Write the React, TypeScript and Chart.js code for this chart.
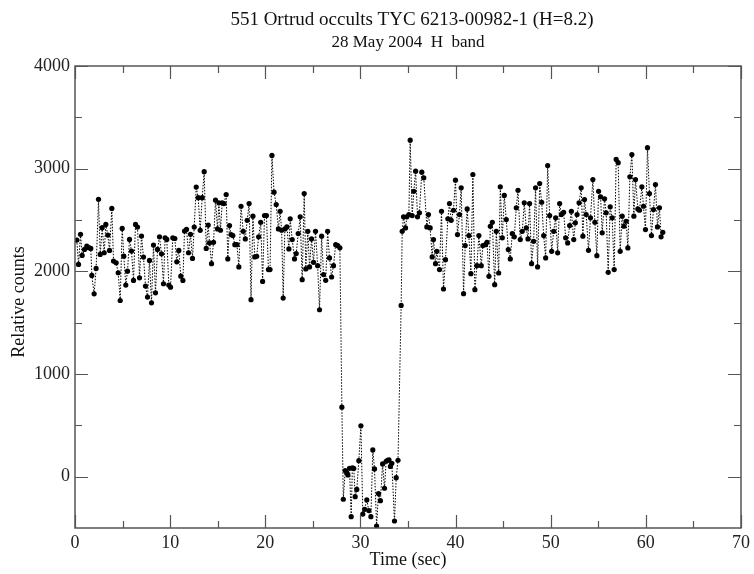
import React, { useEffect, useRef } from 'react';
import { Chart, registerables } from 'chart.js';
Chart.register(...registerables);

const TITLE = '551 Ortrud occults TYC 6213-00982-1 (H=8.2)';
const SUBTITLE = '28 May 2004  H  band';
const X_LABEL = 'Time (sec)';
const Y_LABEL = 'Relative counts';
const X_MAJOR = [0, 10, 20, 30, 40, 50, 60, 70];
const X_MINOR = [5, 15, 25, 35, 45, 55, 65];
const Y_MAJOR = [0, 1000, 2000, 3000, 4000];
const Y_MINOR = [500, 1500, 2500, 3500];

const TIMES = [
  0.19, 0.37, 0.58, 0.75, 1.0, 1.24, 1.45, 1.66, 1.77, 2.01, 2.22, 2.47, 2.65, 2.86, 3.07, 3.24, 3.45, 3.63, 3.87, 4.05,
  4.33, 4.54, 4.75, 4.96, 5.13, 5.34, 5.52, 5.73, 5.94, 6.15, 6.36, 6.57, 6.78, 6.99, 7.2, 7.41, 7.62, 7.83, 8.04, 8.25,
  8.46, 8.67, 8.88, 9.09, 9.3, 9.47, 9.65, 9.86, 10.04, 10.28, 10.49, 10.7, 10.91, 11.12, 11.34, 11.51, 11.72, 11.93, 12.14, 12.35,
  12.53, 12.74, 12.95, 13.16, 13.37, 13.58, 13.79, 14.0,
  14.14, 14.35, 14.56, 14.77, 14.98, 15.12, 15.29, 15.47, 15.65, 15.89, 16.06, 16.24, 16.41, 16.59, 16.8, 17.02, 17.22, 17.45, 17.68, 17.9,
  18.1, 18.3, 18.5, 18.7, 18.9, 19.1, 19.3, 19.52, 19.72, 19.92, 20.12, 20.33, 20.5, 20.7, 20.92, 21.15, 21.38, 21.56, 21.72, 21.88,
  22.06, 22.27, 22.48, 22.62, 22.83, 23.07, 23.25, 23.46, 23.67, 23.88, 24.09, 24.26, 24.47, 24.65, 24.86, 25.07, 25.28, 25.5, 25.7, 25.92,
  26.12, 26.35, 26.55, 26.75, 26.97, 27.17, 27.4, 27.62, 27.84,
  28.05, 28.2, 28.4, 28.55, 28.68, 28.85, 29.03, 29.15, 29.3, 29.45, 29.62, 29.83, 30.05, 30.25, 30.45, 30.67, 30.88, 31.1, 31.3, 31.48,
  31.7, 31.9, 32.1, 32.33, 32.53, 32.7, 32.85, 33.0, 33.15, 33.3, 33.58, 33.76, 33.95,
  34.28, 34.39, 34.53, 34.74, 34.88, 35.09, 35.23, 35.44, 35.61, 35.8, 36.0, 36.2, 36.45, 36.66, 36.98, 37.15,
  37.33, 37.54, 37.68, 37.89, 38.03, 38.31, 38.52, 38.73, 38.94, 39.19, 39.36, 39.54, 39.78, 39.99, 40.2, 40.41, 40.59, 40.84, 41.01, 41.22,
  41.4, 41.61, 41.82, 42.03, 42.24, 42.45, 42.7, 42.87, 43.15, 43.3, 43.51, 43.65, 43.86, 44.11, 44.28, 44.53, 44.7, 44.91, 45.12, 45.33,
  45.54, 45.75, 45.96, 46.17, 46.38, 46.56, 46.8, 47.01, 47.22, 47.43, 47.61, 47.78, 47.99, 48.2, 48.41, 48.62, 48.84, 49.05, 49.26, 49.47,
  49.68, 49.89, 50.1, 50.31, 50.52, 50.73, 50.94, 51.12, 51.36, 51.57, 51.78, 51.99, 52.17, 52.42, 52.59, 52.77, 52.98,
  53.2, 53.38, 53.55, 53.73, 53.97, 54.18, 54.43, 54.64, 54.85, 55.03, 55.24, 55.41, 55.66, 55.83, 56.04, 56.25, 56.46, 56.67, 56.88, 57.09,
  57.3, 57.51, 57.69, 57.93, 58.11, 58.32, 58.53, 58.74, 58.91, 59.16, 59.33, 59.58, 59.75, 59.96, 60.17, 60.38, 60.59, 60.8, 61.01, 61.22,
  61.43, 61.6, 61.78,
];

const COUNTS = [
  2304, 2067, 2360, 2155, 2213, 2246, 2230, 2223, 1960, 1781, 2028, 2701, 2165, 2425, 2181, 2457, 2353, 2204, 2613, 2100,
  2083, 1986, 1716, 2418, 2148, 1866, 2002, 2311, 2197, 1911, 2457, 2431, 1937, 2343, 2139, 1856, 1749, 2106, 1693, 2256,
  1791, 2213, 2337, 2171, 1879, 2327, 2311, 1866, 1846, 2327, 2320, 2093, 2204, 1953, 1911, 2392, 2408, 2181, 2360, 2126,
  2431, 2821, 2717, 2399, 2717, 2971, 2223, 2451,
  2277, 2075, 2283, 2693, 2413, 2667, 2400, 2667, 2660, 2748, 2121, 2446, 2358, 2348, 2260, 2260, 2043, 2634, 2390, 2316,
  2497, 2660, 1724, 2537, 2140, 2147, 2336, 2478, 1902, 2543, 2543, 2017, 2017, 3129, 2771, 2651, 2413, 2585, 2400, 1740,
  2413, 2433, 2218, 2511, 2309, 2121, 2173, 2368, 2531, 1919, 2758, 2023, 2390, 2043, 2316, 2088, 2390, 2055, 1626, 2342,
  1968, 1912, 2390, 2131, 1945, 2055, 2260, 2250, 2229,
  677, -220, 60, 40, 17, 82, -390, 85, 80, -195, -124, 156, 495, -364, -318, -227, -330, -390, 260, 75,
  -481, -165, -234, 124, -113, 150, 160, 165, 100, 130, -432, -10, 160,
  1668, 2390, 2531, 2423, 2531, 2553, 3278, 2543, 2780, 2976, 2531, 2570, 2966, 2911, 2433, 2553,
  2423, 2140, 2309, 2075, 2195, 2017, 2585, 1828, 2114, 2511, 2660, 2497, 2595, 2888, 2358, 2553, 2813, 1782, 2251, 2608,
  2348, 1977, 2943, 1821, 2055, 2348, 2055, 2251, 2260, 2283, 1951, 2439, 2478, 1870, 2390, 1984, 2823, 2326, 2739, 2504,
  2212, 2121, 2368, 2336, 2619, 2790, 2309, 2390, 2667, 2423, 2316, 2660, 2075, 2293, 2813, 2043, 2855, 2673, 2348, 2131,
  3031, 2543, 2195, 2390, 2521, 2180, 2660, 2553, 2575, 2326, 2277, 2446, 2585, 2309, 2472, 2553, 2667,
  2813, 2342, 2699, 2553, 2205, 2521, 2894, 2478, 2153, 2780, 2726, 2375, 2706, 2570, 1990, 2628, 2521, 2017, 3090, 3058,
  2195, 2537, 2439, 2488, 2228, 2921, 3138, 2537, 2894, 2608, 2595, 2823, 2634, 2407, 3204, 2758, 2348, 2602, 2846, 2433,
  2619, 2336, 2380,
];

const FONT = 'Liberation Serif';
const AXIS_COLOR = '#555';

const framePlugin = {
  id: 'frameAndText',
  afterDraw(chart: any) {
    const { ctx, chartArea: a, scales } = chart;
    const x = scales.x;
    const y = scales.y;
    ctx.save();
    ctx.strokeStyle = AXIS_COLOR;
    ctx.lineWidth = 1.5;
    ctx.strokeRect(a.left, a.top, a.right - a.left, a.bottom - a.top);
    ctx.lineWidth = 1.2;
    const major = 13;
    const minor = 7;
    const xt = (vals: number[], len: number) => {
      vals.forEach((v) => {
        const px = Math.round(x.getPixelForValue(v)) + 0.5;
        ctx.beginPath();
        ctx.moveTo(px, a.bottom);
        ctx.lineTo(px, a.bottom - len);
        ctx.moveTo(px, a.top);
        ctx.lineTo(px, a.top + len);
        ctx.stroke();
      });
    };
    const yt = (vals: number[], len: number) => {
      vals.forEach((v) => {
        const py = Math.round(y.getPixelForValue(v)) + 0.5;
        ctx.beginPath();
        ctx.moveTo(a.left, py);
        ctx.lineTo(a.left + len, py);
        ctx.moveTo(a.right, py);
        ctx.lineTo(a.right - len, py);
        ctx.stroke();
      });
    };
    xt(X_MAJOR, major);
    xt(X_MINOR, minor);
    yt(Y_MAJOR, major);
    yt(Y_MINOR, minor);

    const cx = (a.left + a.right) / 2;
    ctx.fillStyle = '#111';
    ctx.textAlign = 'center';
    ctx.textBaseline = 'middle';
    ctx.font = `19px "${FONT}"`;
    ctx.fillText(TITLE, cx + 4, 20);
    ctx.font = `17px "${FONT}"`;
    ctx.fillText(SUBTITLE, cx, 43);
    ctx.font = `18px "${FONT}"`;
    ctx.fillText(X_LABEL, cx, 560);
    ctx.translate(19, 302);
    ctx.rotate(-Math.PI / 2);
    ctx.fillText(Y_LABEL, 0, 0);
    ctx.restore();
  },
};

export default function App() {
  const ref = useRef<HTMLCanvasElement | null>(null);
  useEffect(() => {
    if (!ref.current) return;
    const chart = new Chart(ref.current, {
      type: 'line',
      data: {
        datasets: [
          {
            data: TIMES.map((t, i) => ({ x: t, y: COUNTS[i] })),
            borderColor: '#000',
            borderWidth: 1,
            borderDash: [1.5, 1.5],
            pointRadius: 2.6,
            pointBackgroundColor: '#000',
            pointBorderWidth: 0,
            tension: 0,
            fill: false,
          },
        ],
      },
      options: {
        animation: false,
        responsive: false,
        devicePixelRatio: 1,
        layout: { padding: { top: 66, right: 12, bottom: 0, left: 0 } },
        plugins: { legend: { display: false }, tooltip: { enabled: false }, title: { display: false } },
        scales: {
          x: {
            type: 'linear',
            min: 0,
            max: 70,
            afterBuildTicks: (s: any) => {
              s.ticks = X_MAJOR.map((value) => ({ value }));
            },
            afterFit: (s: any) => {
              s.height = 46;
            },
            grid: { display: false, drawTicks: false },
            border: { display: false },
            ticks: {
              font: { family: FONT, size: 18 },
              color: '#222',
              padding: 4,
              maxRotation: 0,
              autoSkip: false,
              callback: (v: any) => String(v),
            },
          },
          y: {
            type: 'linear',
            min: -500,
            max: 4000,
            afterBuildTicks: (s: any) => {
              s.ticks = Y_MAJOR.map((value) => ({ value }));
            },
            afterFit: (s: any) => {
              s.width = 75;
            },
            grid: { display: false, drawTicks: false },
            border: { display: false },
            ticks: {
              font: { family: FONT, size: 18 },
              color: '#222',
              padding: 5,
              autoSkip: false,
              callback: (v: any) => String(v),
            },
          },
        },
      },
      plugins: [framePlugin],
    } as any);
    return () => chart.destroy();
  }, []);
  return (
    <div style={{ position: 'absolute', left: 0, top: 0, width: 754, height: 574, background: '#fff' }}>
      <canvas ref={ref} width={754} height={574} />
    </div>
  );
}
